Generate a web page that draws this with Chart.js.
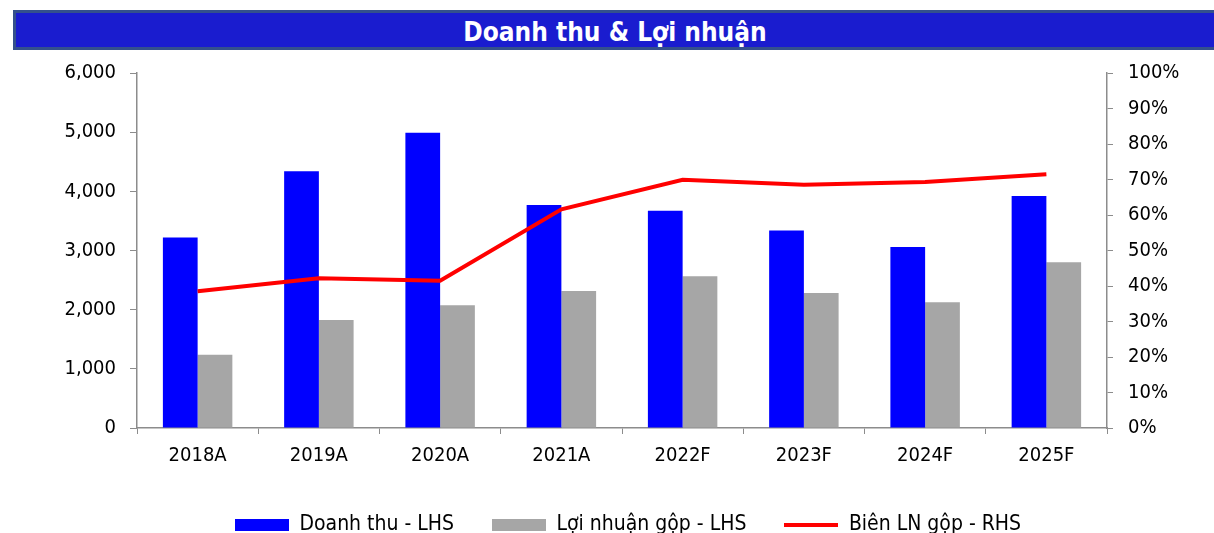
<!DOCTYPE html>
<html>
<head>
<meta charset="utf-8">
<script src="https://cdn.jsdelivr.net/npm/chart.js@4.4.1/dist/chart.umd.min.js"></script>
<style>
    html, body { margin: 0; padding: 0; background: #fff; }
    #wrap { position: relative; width: 1214px; height: 533px; overflow: hidden; }
    #banner {
        position: absolute; left: 13px; top: 10px;
        width: 1198px; height: 34px; padding-right: 40px;
        background: #1a1ccf; border: 3px solid #34508c;
        color: #fff; text-align: center;
        font: bold 26px "DejaVu Sans Condensed", "DejaVu Sans", sans-serif;
        line-height: 38px;
    }
    #chart { position: absolute; left: 0; top: 0; }
</style>
</head>
<body>
<div id="wrap">
    <canvas id="chart" width="1214" height="533"></canvas>
    <div id="banner">Doanh thu &amp; Lợi nhuận</div>
</div>
<script>
// Data
const years = ['2018A', '2019A', '2020A', '2021A', '2022F', '2023F', '2024F', '2025F'];
const revenue = [3220, 4340, 4990, 3770, 3670, 3340, 3060, 3920];      // Doanh thu - LHS
const grossProfit = [1240, 1825, 2075, 2315, 2565, 2280, 2125, 2800];  // Lợi nhuận gộp - LHS
const grossMargin = [38.5, 42.2, 41.5, 61.6, 69.9, 68.5, 69.3, 71.5];  // Biên LN gộp - RHS (%)
const seriesNames = ['Doanh thu - LHS', 'Lợi nhuận gộp - LHS', 'Biên LN gộp - RHS'];
const leftMax = 6000, leftStep = 1000;
const rightMax = 100, rightStep = 10;

const FONT = '"DejaVu Sans Condensed", "DejaVu Sans", sans-serif';
const AXIS_COLOR = '#8c8c8c';

// small swatches used as legend markers
function swatch(w, h, color) {
    const c = document.createElement('canvas');
    c.width = w; c.height = h;
    const g = c.getContext('2d');
    g.fillStyle = color;
    g.fillRect(0, 0, w, h);
    return c;
}
const legendMarks = [swatch(54, 12, '#0000ff'), swatch(54, 12, '#a6a6a6'), swatch(54, 4, '#ff0000')];

// fix legend height so the plot area lines up with the reference
const legendHeightPlugin = {
    id: 'legendHeight',
    afterInit(chart) {
        const lg = chart.legend;
        const fit = lg.fit;
        lg.fit = function () {
            fit.call(this);
            this.height = 57;
        };
    }
};

const ctx = document.getElementById('chart').getContext('2d');
new Chart(ctx, {
    type: 'bar',
    data: {
        labels: years,
        datasets: [
            {
                label: seriesNames[0],
                data: revenue,
                backgroundColor: '#0000ff',
                yAxisID: 'y',
                order: 1
            },
            {
                label: seriesNames[1],
                data: grossProfit,
                backgroundColor: '#a6a6a6',
                yAxisID: 'y',
                order: 1
            },
            {
                type: 'line',
                label: seriesNames[2],
                data: grossMargin,
                borderColor: '#ff0000',
                backgroundColor: '#ff0000',
                borderWidth: 4,
                pointRadius: 0,
                tension: 0,
                yAxisID: 'y1',
                order: 0
            }
        ]
    },
    options: {
        responsive: false,
        animation: false,
        datasets: {
            bar: { categoryPercentage: 0.573, barPercentage: 1 }
        },
        layout: { padding: { top: 73, left: 42, right: 0, bottom: 0 } },
        plugins: {
            tooltip: { enabled: false },
            legend: {
                position: 'bottom',
                labels: {
                    usePointStyle: true,
                    pointStyleWidth: 54,
                    boxHeight: 12,
                    padding: 38,
                    color: '#000',
                    font: { family: FONT, size: 21 },
                    sort: (a, b) => a.datasetIndex - b.datasetIndex,
                    generateLabels(chart) {
                        const items = Chart.defaults.plugins.legend.labels.generateLabels(chart);
                        items.forEach(it => { it.pointStyle = legendMarks[it.datasetIndex]; });
                        return items;
                    }
                }
            }
        },
        scales: {
            x: {
                grid: { display: true, drawOnChartArea: false, tickLength: 6, color: AXIS_COLOR, offset: true },
                border: { color: AXIS_COLOR, width: 1.5 },
                ticks: { color: '#000', font: { family: FONT, size: 20 }, padding: 10, maxRotation: 0 },
                afterFit(scale) { scale.height = 48; }
            },
            y: {
                position: 'left',
                min: 0, max: leftMax,
                grid: { display: true, drawOnChartArea: false, tickLength: 7, color: AXIS_COLOR },
                border: { color: AXIS_COLOR, width: 1.5 },
                ticks: {
                    stepSize: leftStep, color: '#000', padding: 14,
                    font: { family: FONT, size: 20 },
                    callback: v => v.toLocaleString('en-US')
                },
                afterFit(scale) { scale.width = 95; }
            },
            y1: {
                position: 'right',
                min: 0, max: rightMax,
                grid: { display: true, drawOnChartArea: false, tickLength: 6, color: AXIS_COLOR },
                border: { color: AXIS_COLOR, width: 1.5 },
                ticks: {
                    stepSize: rightStep, color: '#000', padding: 15,
                    font: { family: FONT, size: 20 },
                    callback: v => v + '%'
                },
                afterFit(scale) { scale.width = 107; }
            }
        }
    },
    plugins: [legendHeightPlugin]
});
</script>
</body>
</html>
